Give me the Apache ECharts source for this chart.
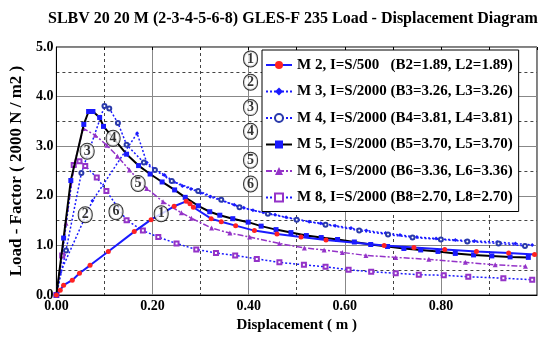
<!DOCTYPE html>
<html>
<head>
<meta charset="utf-8">
<script src="https://cdn.jsdelivr.net/npm/echarts@6/dist/echarts.min.js"></script>
<style>html,body{margin:0;padding:0;background:#fff;}#c{width:546px;height:338px;}</style>
</head>
<body>
<div id="c"></div>
<script>
const chartTitle = 'SLBV 20 20 M (2-3-4-5-6-8) GLES-F 235 Load - Displacement Diagram';
const xName = 'Displacement ( m )';
const yName = 'Load - Factor ( 2000 N / m2 )';
const legendNames = [
  'M 2, I=S/500   (B2=1.89, L2=1.89)',
  'M 3, I=S/2000 (B3=3.26, L3=3.26)',
  'M 4, I=S/2000 (B4=3.81, L4=3.81)',
  'M 5, I=S/2000 (B5=3.70, L5=3.70)',
  'M 6, I=S/2000 (B6=3.36, L6=3.36)',
  'M 8, I=S/2000 (B8=2.70, L8=2.70)'
];
// [displacement, load factor]
const m2 = [[0,0],[0.008,0.1],[0.015,0.2],[0.033,0.3],[0.048,0.44],[0.07,0.6],[0.108,0.88],[0.162,1.28],[0.197,1.52],[0.245,1.79],[0.27,1.89],[0.278,1.84],[0.285,1.77],[0.322,1.54],[0.343,1.48],[0.373,1.40],[0.412,1.30],[0.459,1.23],[0.509,1.17],[0.561,1.11],[0.682,1.0],[0.744,0.96],[0.808,0.92],[0.874,0.88],[0.941,0.85],[0.995,0.82]];
const m3 = [[0,0],[0.008,0.45],[0.075,1.9],[0.168,3.26],[0.188,2.67],[0.205,2.54],[0.225,2.42],[0.245,2.28],[0.262,2.2],[0.28,2.14],[0.3,2.06],[0.32,1.98],[0.345,1.9],[0.37,1.82],[0.39,1.76],[0.409,1.71],[0.43,1.67],[0.455,1.62],[0.478,1.57],[0.5,1.53],[0.526,1.48],[0.55,1.45],[0.58,1.4],[0.613,1.35],[0.645,1.3],[0.685,1.25],[0.715,1.21],[0.75,1.17],[0.79,1.14],[0.83,1.11],[0.87,1.09],[0.917,1.07],[0.955,1.04],[0.99,1.01]];
const m4 = [[0,0],[0.02,0.9],[0.052,2.46],[0.100,3.81],[0.110,3.76],[0.128,3.47],[0.146,3.03],[0.182,2.67],[0.205,2.52],[0.24,2.3],[0.295,2.1],[0.343,1.92],[0.381,1.77],[0.44,1.64],[0.5,1.52],[0.56,1.42],[0.63,1.3],[0.69,1.22],[0.741,1.16],[0.8,1.12],[0.855,1.08],[0.92,1.04],[0.975,0.99]];
const m5 = [[0,0],[0.015,1.15],[0.03,2.31],[0.057,3.44],[0.067,3.70],[0.076,3.70],[0.09,3.58],[0.098,3.4],[0.146,2.84],[0.171,2.61],[0.195,2.44],[0.22,2.28],[0.246,2.12],[0.268,1.97],[0.295,1.8],[0.319,1.68],[0.34,1.61],[0.367,1.54],[0.399,1.47],[0.426,1.39],[0.457,1.32],[0.488,1.26],[0.52,1.2],[0.551,1.16],[0.585,1.12],[0.62,1.07],[0.654,1.02],[0.689,0.98],[0.723,0.94],[0.758,0.91],[0.794,0.88],[0.83,0.84],[0.868,0.81],[0.906,0.79],[0.944,0.77],[0.982,0.76]];
const m6 = [[0,0],[0.02,1.45],[0.037,2.63],[0.056,3.36],[0.081,3.22],[0.105,3.02],[0.127,2.8],[0.152,2.52],[0.188,2.15],[0.222,1.88],[0.26,1.66],[0.281,1.55],[0.323,1.35],[0.361,1.25],[0.402,1.17],[0.464,1.04],[0.516,0.95],[0.557,0.91],[0.595,0.86],[0.644,0.8],[0.706,0.76],[0.775,0.72],[0.851,0.66],[0.913,0.61],[0.976,0.58]];
const m8 = [[0,0],[0.012,0.8],[0.036,2.62],[0.048,2.70],[0.06,2.6],[0.084,2.37],[0.104,2.1],[0.146,1.51],[0.18,1.3],[0.212,1.17],[0.25,1.04],[0.291,0.92],[0.332,0.85],[0.372,0.8],[0.417,0.73],[0.464,0.66],[0.515,0.61],[0.56,0.57],[0.608,0.51],[0.655,0.47],[0.706,0.44],[0.754,0.41],[0.806,0.4],[0.857,0.37],[0.93,0.34],[0.99,0.31]];
// circled curve labels [x, y, number]
const annotations = [[0.218,1.64,'1'],[0.06,1.62,'2'],[0.064,2.9,'3'],[0.118,3.16,'4'],[0.17,2.25,'5'],[0.124,1.68,'6'],
  [0.404,4.76,'1'],[0.404,4.29,'2'],[0.404,3.78,'3'],[0.404,3.30,'4'],[0.404,2.72,'5'],[0.404,2.24,'6']];

const serif = '"Liberation Serif","DejaVu Serif",serif';
const blue = '#1a1aff', purple = '#9433c8', red = '#ff2222';
const chart = echarts.init(document.getElementById('c'), null, {renderer:'canvas'});
chart.setOption({
  animation: false,
  backgroundColor: '#fff',
  title: {text: chartTitle, left: 43, top: 6, textStyle:{fontFamily: serif, fontWeight:'bold', fontSize:16, color:'#000'}},
  grid: {left:56, right:9, top:47, bottom:38, show:true, borderColor:'#000', borderWidth:1},
  legend: {
    orient:'vertical', left:262, top:50, data: legendNames,
    backgroundColor:'#fff', borderColor:'#000', borderWidth:1,
    padding:[7,6,6,3], itemWidth:26, itemHeight:10, itemGap:10.5,
    textStyle:{fontFamily: serif, fontWeight:'bold', fontSize:15, color:'#000', lineHeight:16}
  },
  xAxis: [{
    type:'value', min:0, max:1, interval:0.2,
    name: xName, nameLocation:'middle', nameGap:22,
    nameTextStyle:{fontFamily: serif, fontWeight:'bold', fontSize:15, color:'#000'},
    axisLine:{lineStyle:{color:'#000'}}, axisTick:{show:false},
    axisLabel:{fontFamily: serif, fontWeight:'bold', fontSize:14, color:'#000', margin:4,
      formatter: v => v > 0.99 ? '' : v.toFixed(2)},
    splitLine:{show:true, lineStyle:{color:'#888', width:1, type:'solid'}},
    minorTick:{show:false, splitNumber:2},
    minorSplitLine:{show:true, lineStyle:{color:'#444', width:1, type:[3,3]}}
  },{
    type:'value', position:'top', min:0, max:1, interval:0.1,
    axisLine:{show:false}, axisLabel:{show:false}, splitLine:{show:false},
    axisTick:{show:true, inside:true, length:3, lineStyle:{color:'#000'}}
  }],
  yAxis: {
    type:'value', min:0, max:5, interval:1,
    name: yName, nameLocation:'middle', nameGap:31,
    nameTextStyle:{fontFamily: serif, fontWeight:'bold', fontSize:17, color:'#000'},
    axisLine:{lineStyle:{color:'#000'}}, axisTick:{show:false},
    axisLabel:{fontFamily: serif, fontWeight:'bold', fontSize:14, color:'#000', margin:3,
      formatter: v => v.toFixed(1)},
    splitLine:{show:true, lineStyle:{color:'#888', width:1, type:'solid'}},
    minorTick:{show:false, splitNumber:2},
    minorSplitLine:{show:true, lineStyle:{color:'#444', width:1, type:[3,3]}}
  },
  series: [
    {name: legendNames[0], type:'line', data:m2, symbol:'circle', symbolSize:5,
      itemStyle:{color:red}, lineStyle:{color:blue, width:2}, z:5},
    {name: legendNames[1], type:'line', data:m3, symbol:'diamond', symbolSize:4,
      itemStyle:{color:blue}, lineStyle:{color:blue, width:1.5, type:[2,2]}, z:3},
    {name: legendNames[2], type:'line', data:m4, symbol:'emptyCircle', symbolSize:4,
      itemStyle:{color:'#2a3aaa', borderWidth:1}, lineStyle:{color:blue, width:1.5, type:[2,2]}, z:3},
    {name: legendNames[3], type:'line', data:m5, symbol:'rect', symbolSize:5,
      itemStyle:{color:blue}, lineStyle:{color:'#000', width:2}, z:4},
    {name: legendNames[4], type:'line', data:m6, symbol:'triangle', symbolSize:5,
      itemStyle:{color:purple}, lineStyle:{color:purple, width:1.5, type:[6,2,2,2]}, z:3},
    {name: legendNames[5], type:'line', data:m8, symbol:'emptyRect', symbolSize:4,
      itemStyle:{color:purple, borderWidth:1}, lineStyle:{color:blue, width:1.5, type:[2,2]}, z:3},
    {type:'scatter', data: annotations, symbolSize:0, silent:true, z:10,
      label:{show:true, position:'inside', formatter: p => '{c|' + p.data[2] + '}',
        rich:{c:{width:13, height:15, lineHeight:15, borderRadius:8, borderColor:'#000', borderWidth:1,
          backgroundColor:'#fff', align:'center', verticalAlign:'middle', fontFamily: serif, fontWeight:'bold', fontSize:14, color:'#000'}}}}
  ]
});
</script>
</body>
</html>
